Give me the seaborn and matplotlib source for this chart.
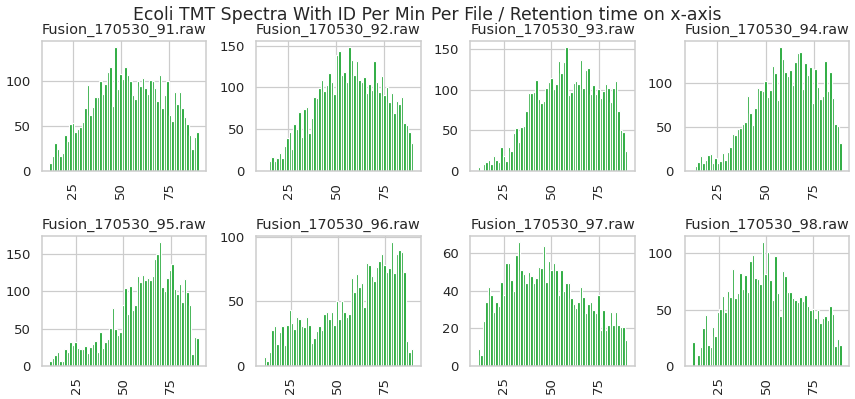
import numpy as np
import pandas as pd
import seaborn as sns
import matplotlib
matplotlib.use("Agg")
import matplotlib.pyplot as plt
from matplotlib.ticker import MultipleLocator

# ---- data -------------------------------------------------------------
files = ["Fusion_170530_91.raw", "Fusion_170530_92.raw", "Fusion_170530_93.raw",
         "Fusion_170530_94.raw", "Fusion_170530_95.raw", "Fusion_170530_96.raw",
         "Fusion_170530_97.raw", "Fusion_170530_98.raw"]

# retention-time range (min) covered by each file's histogram (60 bins each)
rt_start = [12.9, 12.1, 11.4, 11.9, 10.85, 10.7, 11.4, 11.0]
rt_end = [90.4, 90.0, 90.1, 89.4, 89.85, 90.0, 90.1, 89.8]
n_bins = 60

counts_91 = [9, 17, 31, 24, 17, 20, 40, 34, 52, 53,
             43, 47, 49, 55, 70, 96, 62, 71, 82, 82,
             100, 86, 97, 110, 116, 72, 138, 91, 108, 103,
             116, 107, 100, 85, 80, 100, 95, 104, 93, 86,
             101, 100, 93, 78, 107, 70, 85, 100, 62, 56,
             88, 75, 88, 70, 60, 52, 40, 24, 38, 44]
counts_92 = [1, 1, 12, 17, 12, 16, 22, 16, 30, 40,
             47, 26, 56, 50, 70, 41, 74, 77, 45, 64,
             88, 87, 99, 109, 96, 103, 117, 107, 92, 139,
             143, 115, 119, 106, 148, 133, 115, 132, 109, 107,
             112, 93, 104, 97, 131, 107, 94, 114, 91, 100,
             83, 93, 69, 84, 80, 89, 58, 55, 47, 34]
counts_93 = [5, 1, 9, 11, 13, 8, 19, 14, 11, 30,
             18, 12, 29, 25, 47, 53, 36, 54, 55, 74,
             96, 96, 97, 112, 88, 83, 86, 102, 109, 114,
             101, 107, 135, 121, 134, 152, 93, 97, 108, 111,
             107, 136, 102, 124, 127, 94, 106, 95, 101, 90,
             98, 107, 102, 85, 102, 110, 74, 50, 48, 25]
counts_94 = [1, 6, 10, 17, 9, 12, 18, 19, 9, 15,
             9, 11, 20, 12, 22, 27, 42, 41, 47, 49,
             53, 55, 85, 66, 52, 71, 94, 92, 90, 102,
             84, 92, 119, 111, 80, 140, 127, 112, 107, 114,
             97, 123, 133, 135, 93, 122, 109, 118, 77, 115,
             95, 82, 85, 125, 90, 112, 83, 53, 51, 32]
counts_95 = [7, 11, 15, 19, 7, 7, 22, 18, 32, 28,
             32, 24, 23, 22, 27, 17, 26, 30, 34, 19,
             46, 24, 32, 36, 51, 77, 49, 41, 46, 82,
             105, 70, 107, 75, 82, 121, 113, 122, 115, 118,
             115, 121, 143, 150, 166, 106, 100, 118, 128, 137,
             103, 97, 110, 86, 117, 99, 82, 16, 39, 37]
counts_96 = [7, 4, 11, 28, 31, 17, 26, 31, 16, 32,
             43, 33, 29, 38, 36, 31, 30, 38, 32, 18,
             22, 27, 31, 28, 40, 42, 36, 42, 32, 50,
             36, 50, 42, 38, 40, 68, 57, 71, 61, 64,
             46, 80, 78, 70, 66, 77, 81, 87, 78, 73,
             76, 96, 72, 87, 90, 88, 73, 19, 11, 13]
counts_97 = [9, 6, 24, 34, 42, 38, 29, 34, 32, 45,
             38, 55, 55, 46, 40, 59, 66, 51, 49, 44,
             50, 48, 44, 47, 53, 52, 64, 45, 56, 51,
             55, 51, 38, 51, 40, 44, 44, 36, 33, 31,
             34, 42, 37, 28, 33, 34, 30, 28, 38, 19,
             30, 19, 22, 29, 22, 29, 22, 21, 21, 14]
counts_98 = [21, 0, 10, 17, 34, 45, 19, 17, 35, 27,
             48, 51, 62, 48, 67, 61, 86, 60, 65, 83,
             68, 81, 66, 93, 99, 78, 77, 73, 110, 82,
             101, 76, 59, 98, 65, 44, 84, 80, 66, 66,
             60, 59, 57, 61, 58, 63, 53, 50, 51, 43,
             50, 38, 43, 44, 41, 53, 46, 18, 24, 19]

all_counts = [counts_91, counts_92, counts_93, counts_94,
              counts_95, counts_96, counts_97, counts_98]

title = "Ecoli TMT Spectra With ID Per Min Per File / Retention time on x-axis"
bar_color = "#1fa634"

# ---- plot -------------------------------------------------------------
sns.set_theme(style="whitegrid")
plt.rcParams["font.family"] = ["DejaVu Sans"]

DPI = 86.4
fig, axes = plt.subplots(2, 4, figsize=(855 / DPI, 399 / DPI), dpi=DPI)
fig.subplots_adjust(left=0.049, right=0.993, top=0.897, bottom=0.083,
                    wspace=0.303, hspace=0.5)

for ax, name, counts, a, b in zip(axes.flat, files, all_counts, rt_start, rt_end):
    step = (b - a) / n_bins
    centers = a + step * (np.arange(len(counts)) + 0.5)
    df = pd.DataFrame({"rt": centers, "n": np.asarray(counts, dtype=float)})
    sns.histplot(data=df, x="rt", weights="n", bins=n_bins, binrange=(a, b),
                 ax=ax, color=bar_color, alpha=1, edgecolor="white",
                 linewidth=1)
    ax.set_title(name)
    ax.set_xlabel("")
    ax.set_ylabel("")
    ax.xaxis.set_major_locator(MultipleLocator(25))
    ax.tick_params(axis="x", labelrotation=90)

fig.suptitle(title, y=0.985)
fig.savefig("out.png", dpi=DPI)
